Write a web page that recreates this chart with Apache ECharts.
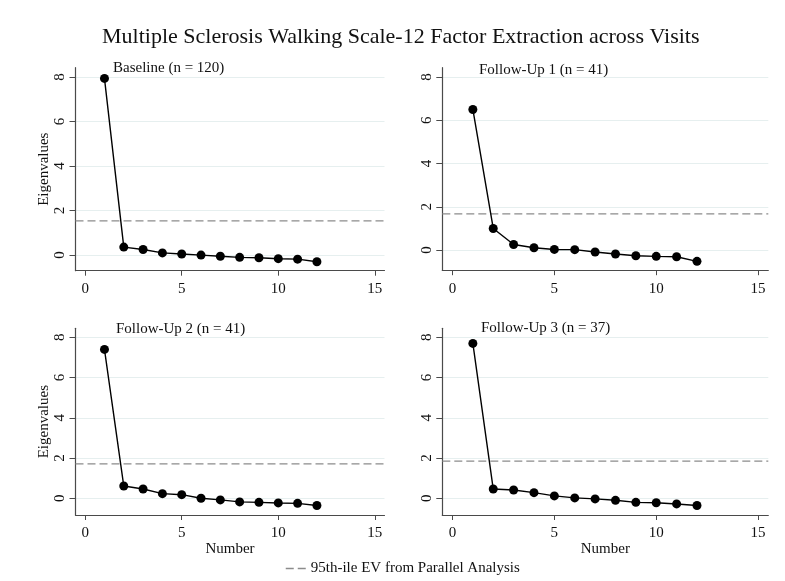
<!DOCTYPE html>
<html>
<head>
<meta charset="utf-8">
<title>MSWS-12 Factor Extraction</title>
<script src="https://cdn.jsdelivr.net/npm/echarts@6/dist/echarts.min.js"></script>
<style>
  html, body { margin: 0; padding: 0; background: #fff; }
  #chart { width: 785px; height: 581px; }
</style>
</head>
<body>
<div id="chart"></div>
<script>
// Eigenvalues per factor number (1..12) at each visit
const factorNumbers = [1, 2, 3, 4, 5, 6, 7, 8, 9, 10, 11, 12];
const baseline  = [7.94, 0.36, 0.25, 0.10, 0.05, 0.00, -0.05, -0.10, -0.12, -0.16, -0.18, -0.30];
const followUp1 = [6.50, 1.00, 0.26, 0.11, 0.03, 0.02, -0.09, -0.18, -0.26, -0.29, -0.31, -0.52];
const followUp2 = [7.40, 0.61, 0.46, 0.23, 0.18, 0.00, -0.08, -0.18, -0.20, -0.23, -0.25, -0.36];
const followUp3 = [7.70, 0.46, 0.41, 0.28, 0.12, 0.02, -0.03, -0.10, -0.20, -0.22, -0.28, -0.36];

// 95th percentile eigenvalue from parallel analysis, one per visit
const parallelEV = [1.54, 1.67, 1.71, 1.85];

const panelTitles = ['Baseline (n = 120)', 'Follow-Up 1 (n = 41)', 'Follow-Up 2 (n = 41)', 'Follow-Up 3 (n = 37)'];
const xTicks = [0, 5, 10, 15];
const yTicks = [0, 2, 4, 6, 8];
const chartTitle = 'Multiple Sclerosis Walking Scale-12 Factor Extraction across Visits';
const paLabel = '95th-ile EV from Parallel Analysis';

const visits = [baseline, followUp1, followUp2, followUp3];

// Layout of each panel's plot region
const panels = [
  { left: 75.5,  top: 67.7,  width: 309, height: 203,   yMin: -0.70, yMax: 8.42, ylab: true,  xlab: false, tx: 113, ty: 70 },
  { left: 442.3, top: 67.7,  width: 326, height: 202.5, yMin: -0.93, yMax: 8.43, ylab: false, xlab: false, tx: 479, ty: 71.5 },
  { left: 75.5,  top: 328.3, width: 309, height: 186.7, yMin: -0.83, yMax: 8.45, ylab: true,  xlab: true,  tx: 116, ty: 330.5 },
  { left: 442.3, top: 328.3, width: 326, height: 186.7, yMin: -0.83, yMax: 8.45, ylab: false, xlab: true,  tx: 481, ty: 330 }
];
const X_MIN = -0.5, X_MAX = 15.5;

const FONT = '"Liberation Serif", "DejaVu Serif", serif';
const AXIS_COLOR = '#4a4a4a';
const GRID_COLOR = '#e6efef';
const PA_COLOR = '#8c8c8c';

const grids = [], xAxes = [], yAxes = [], series = [], graphics = [];

panels.forEach((p, i) => {
  grids.push({ left: p.left, top: p.top, width: p.width, height: p.height, containLabel: false });

  xAxes.push({
    type: 'value', gridIndex: i, min: X_MIN, max: X_MAX,
    name: p.xlab ? 'Number' : '', nameLocation: 'middle', nameGap: 27,
    nameTextStyle: { fontFamily: FONT, fontSize: 15, color: '#111' },
    axisLine: { onZero: false, lineStyle: { color: AXIS_COLOR, width: 1.2 } },
    axisTick: { show: true, length: 5, customValues: xTicks, lineStyle: { color: AXIS_COLOR } },
    axisLabel: { customValues: xTicks, margin: 11, fontFamily: FONT, fontSize: 15, color: '#111' },
    splitLine: { show: false }
  });

  yAxes.push({
    type: 'value', gridIndex: i, min: p.yMin, max: p.yMax,
    name: p.ylab ? 'Eigenvalues' : '', nameLocation: 'middle', nameRotate: 90, nameGap: 24,
    nameTextStyle: { fontFamily: FONT, fontSize: 15, color: '#111' },
    axisLine: { show: true, onZero: false, lineStyle: { color: AXIS_COLOR, width: 1.2 } },
    axisTick: { show: true, length: 6, customValues: yTicks, lineStyle: { color: AXIS_COLOR } },
    axisLabel: { customValues: yTicks, rotate: 90, margin: 8, fontFamily: FONT, fontSize: 15, color: '#111' },
    splitLine: { show: true, lineStyle: { color: GRID_COLOR, width: 1 } }
  });

  // parallel-analysis reference line across the whole plot region
  series.push({
    name: paLabel, type: 'line', xAxisIndex: i, yAxisIndex: i,
    data: [[X_MIN, parallelEV[i]], [X_MAX, parallelEV[i]]],
    symbol: 'none', silent: true, z: 1,
    lineStyle: { color: PA_COLOR, width: 1.3, type: [8, 4] },
    itemStyle: { color: PA_COLOR }
  });

  // scree line
  series.push({
    name: panelTitles[i], type: 'line', xAxisIndex: i, yAxisIndex: i,
    data: factorNumbers.map((n, k) => [n, visits[i][k]]),
    symbol: 'circle', symbolSize: 9, z: 3,
    lineStyle: { color: '#000', width: 1.4 },
    itemStyle: { color: '#000' }
  });

  graphics.push({
    type: 'text', left: p.tx, top: p.ty - 9,
    style: { text: panelTitles[i], font: '15px ' + FONT, fill: '#111' }
  });
});

graphics.push({
  type: 'text', left: 102, top: 26,
  style: { text: chartTitle, font: '22px ' + FONT, fill: '#111' }
});

const chart = echarts.init(document.getElementById('chart'), null, { renderer: 'canvas' });
chart.setOption({
  animation: false,
  backgroundColor: '#fff',
  grid: grids,
  xAxis: xAxes,
  yAxis: yAxes,
  series: series,
  graphic: graphics,
  legend: {
    data: [paLabel],
    left: 280, top: 556,
    itemWidth: 20, itemHeight: 10, itemGap: 5,
    itemStyle: { opacity: 0 },
    lineStyle: { color: PA_COLOR, width: 1.5, type: [8, 4] },
    textStyle: { fontFamily: FONT, fontSize: 15, color: '#111' },
    selectedMode: false
  }
});
</script>
</body>
</html>
